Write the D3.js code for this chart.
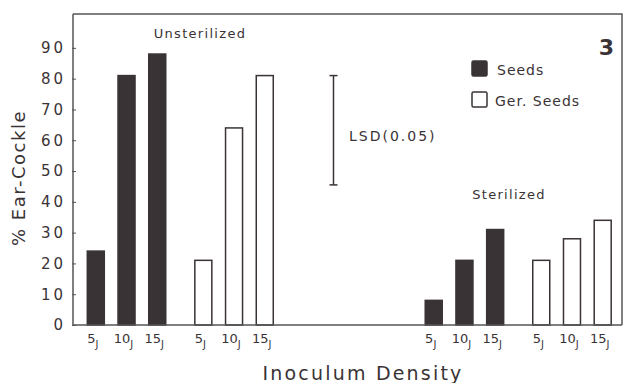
<!DOCTYPE html>
<html>
<head>
<meta charset="utf-8">
<script src="https://cdn.jsdelivr.net/npm/d3@7"></script>
<style>
  body { margin: 0; background: #fff; }
  svg { display: block; }
  text { font-family: "DejaVu Sans", sans-serif; fill: #3a3336; }
</style>
</head>
<body>
<div id="chart"></div>
<script>
// chart values
var densities = ["5", "10", "15"];
var seedsUnsterilized = [24, 81, 88];
var gerUnsterilized = [21, 64, 81];
var seedsSterilized = [8, 21, 31];
var gerSterilized = [21, 28, 34];
var yTicks = [0, 10, 20, 30, 40, 50, 60, 70, 80, 90];
var lsd = { low: 45.5, high: 81 };

var width = 624, height = 383;
var ink = "#3a3336";

var svg = d3.select("#chart").append("svg")
    .attr("width", width)
    .attr("height", height);

// y scale: 0 at the baseline, frame top a little above 100
var y = d3.scaleLinear().domain([0, 101]).range([325, 14]);

// slots along the baseline, each bar centre one slot apart
var x = d3.scaleLinear().domain([0, 16.5]).range([95.8, 602.7]);
var barW = 17;

// group layout: first slot of each block of three bars
var groups = [
    { values: seedsUnsterilized, start: 0, filled: true },
    { values: gerUnsterilized, start: 3.5, filled: false },
    { values: seedsSterilized, start: 11, filled: true },
    { values: gerSterilized, start: 14.5, filled: false }
];

var bars = [];
groups.forEach(function(g) {
    g.values.forEach(function(v, i) {
        bars.push({ slot: g.start + i, value: v, filled: g.filled, label: densities[i] });
    });
});

// frame: top and right edges
svg.append("path")
    .attr("d", "M73," + y(101) + "H622V" + y(0))
    .attr("fill", "none")
    .attr("stroke", "#555")
    .attr("stroke-width", 1.5);

// bars
svg.selectAll("rect.bar")
    .data(bars)
  .enter().append("rect")
    .attr("class", "bar")
    .attr("x", function(d) { return x(d.slot) - barW / 2; })
    .attr("y", function(d) { return y(d.value); })
    .attr("width", barW)
    .attr("height", function(d) { return y(0) - y(d.value); })
    .attr("fill", function(d) { return d.filled ? ink : "#fff"; })
    .attr("stroke", ink)
    .attr("stroke-width", 1.5);

// y axis
var yAxis = d3.axisLeft(y)
    .tickValues(yTicks)
    .tickSize(2)
    .tickPadding(7)
    .tickFormat(function(d) { return d; });

var gy = svg.append("g")
    .attr("transform", "translate(73,0)")
    .call(yAxis);
gy.select(".domain").remove();
gy.append("line")
    .attr("x1", 0).attr("x2", 0)
    .attr("y1", y(101)).attr("y2", y(0))
    .attr("stroke", "#555").attr("stroke-width", 1.5);
gy.selectAll(".tick line")
    .attr("x1", -1).attr("x2", 3)
    .attr("stroke", "#555");
gy.selectAll(".tick text")
    .attr("x", -7)
    .style("font-size", "15px")
    .style("letter-spacing", "3px")
    .attr("fill", ink);

// baseline
svg.append("line")
    .attr("x1", 73).attr("x2", 622)
    .attr("y1", y(0)).attr("y2", y(0))
    .attr("stroke", "#555")
    .attr("stroke-width", 1.5);

// x tick labels with subscript J
var xl = svg.selectAll("text.xlab")
    .data(bars)
  .enter().append("text")
    .attr("class", "xlab")
    .attr("x", function(d) { return x(d.slot) - 3; })
    .attr("y", 343)
    .attr("text-anchor", "middle")
    .style("font-size", "13px");
xl.append("tspan").text(function(d) { return d.label; });
xl.append("tspan")
    .attr("dy", 5)
    .style("font-size", "10px")
    .text("J");

// axis titles
svg.append("text")
    .attr("transform", "translate(25,178) rotate(-90)")
    .attr("text-anchor", "middle")
    .style("font-size", "18px")
    .style("letter-spacing", "1.5px")
    .text("% Ear-Cockle");

svg.append("text")
    .attr("x", 363)
    .attr("y", 380)
    .attr("text-anchor", "middle")
    .style("font-size", "19px")
    .style("letter-spacing", "2.2px")
    .text("Inoculum Density");

// group titles
svg.append("text")
    .attr("x", 200).attr("y", 38)
    .attr("text-anchor", "middle")
    .style("font-size", "13px")
    .style("letter-spacing", "1.3px")
    .text("Unsterilized");

svg.append("text")
    .attr("x", 509).attr("y", 199)
    .attr("text-anchor", "middle")
    .style("font-size", "13px")
    .style("letter-spacing", "1.3px")
    .text("Sterilized");

// panel number
svg.append("text")
    .attr("x", 614).attr("y", 55)
    .attr("text-anchor", "end")
    .style("font-size", "22px")
    .style("font-weight", "bold")
    .text("3");

// LSD bar
var lsdX = 333.5;
var lsdG = svg.append("g").attr("stroke", ink).attr("stroke-width", 1.5);
lsdG.append("line")
    .attr("x1", lsdX).attr("x2", lsdX)
    .attr("y1", y(lsd.high)).attr("y2", y(lsd.low));
[lsd.high, lsd.low].forEach(function(v) {
    lsdG.append("line")
        .attr("x1", lsdX - 4).attr("x2", lsdX + 4)
        .attr("y1", y(v)).attr("y2", y(v));
});
svg.append("text")
    .attr("x", 349).attr("y", 141)
    .style("font-size", "14px")
    .style("letter-spacing", "2px")
    .text("LSD(0.05)");

// legend
var legend = [
    { label: "Seeds", filled: true },
    { label: "Ger. Seeds", filled: false }
];
var lg = svg.selectAll("g.legend")
    .data(legend)
  .enter().append("g")
    .attr("class", "legend")
    .attr("transform", function(d, i) { return "translate(472," + (61 + i * 31) + ")"; });
lg.append("rect")
    .attr("width", 15).attr("height", 15)
    .attr("rx", 1.5)
    .attr("fill", function(d) { return d.filled ? ink : "#fff"; })
    .attr("stroke", ink)
    .attr("stroke-width", 1.5);
lg.append("text")
    .attr("x", function(d) { return d.filled ? 25 : 23; })
    .attr("y", 14)
    .style("font-size", "14px")
    .style("letter-spacing", "1px")
    .text(function(d) { return d.label; });
</script>
</body>
</html>
